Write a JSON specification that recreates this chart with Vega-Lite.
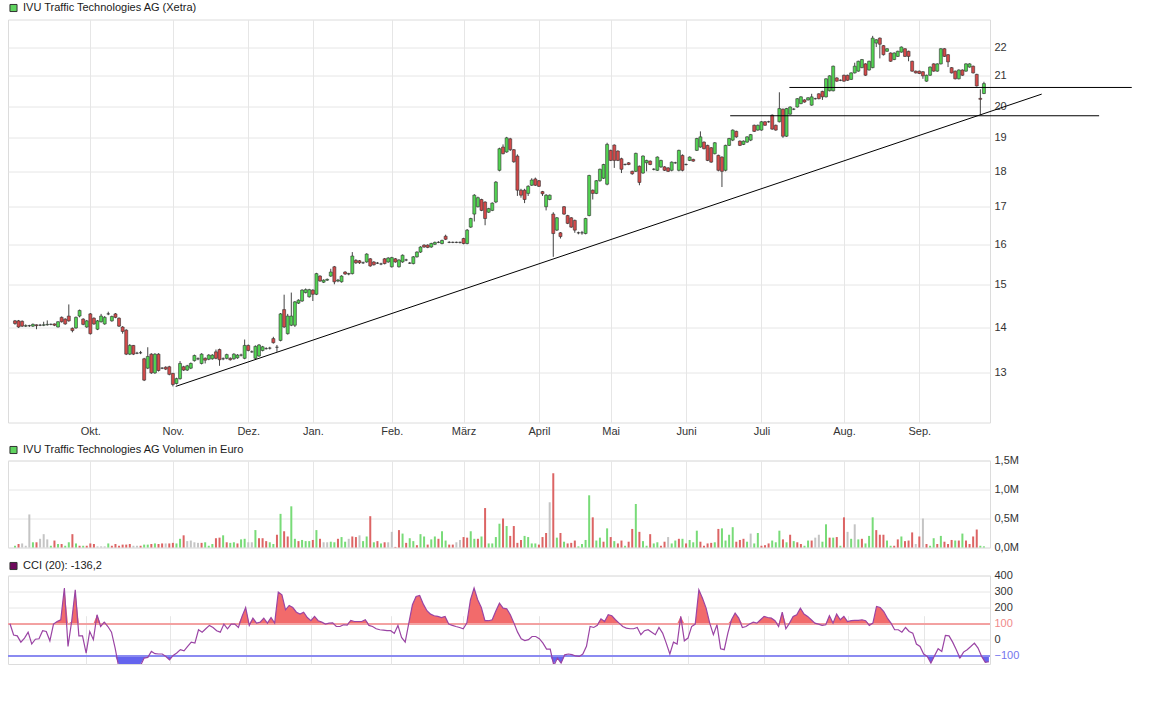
{
  "$schema": "https://vega.github.io/schema/vega-lite/v6.json",
  "background": "white",
  "padding": {"left": 7, "top": 1.5, "right": 5, "bottom": 5},
  "spacing": 6,
  "config": {
    "view": {"stroke": "#dcdcdc"},
    "font": "Liberation Sans",
    "axis": {"labelFont": "Liberation Sans", "labelFontSize": 11, "labelColor": "#333333", "gridColor": "#e6e6e6", "domain": false, "ticks": false, "title": null},
    "legend": {"title": null, "symbolType": "square", "symbolSize": 50, "symbolStrokeColor": "#333333", "symbolStrokeWidth": 1, "symbolOpacity": 1, "labelFont": "Liberation Sans", "labelFontSize": 11, "labelColor": "#1a1a1a", "labelLimit": 0, "padding": 0, "labelOffset": 4}
  },
  "datasets": {
    "d": [
{"i":0,"o":14.14,"h":14.16,"l":14.05,"c":14.08,"v":30000,"vd":"u","k":100},
{"i":1,"o":14.14,"h":14.16,"l":13.98,"c":14.0,"v":60000,"vd":"d","k":30},
{"i":2,"o":14.13,"h":14.15,"l":14.0,"c":14.02,"v":70000,"vd":"n","k":25},
{"i":3,"o":14.02,"h":14.06,"l":14.0,"c":14.03,"v":30000,"vd":"n","k":-14},
{"i":4,"o":14.03,"h":14.05,"l":14.0,"c":14.03,"v":570000,"vd":"n","k":11},
{"i":5,"o":14.02,"h":14.08,"l":14.0,"c":14.06,"v":90000,"vd":"u","k":48},
{"i":6,"o":14.05,"h":14.06,"l":13.95,"c":14.03,"v":90000,"vd":"d","k":-26},
{"i":7,"o":14.04,"h":14.07,"l":14.02,"c":14.04,"v":150000,"vd":"n","k":4},
{"i":8,"o":14.04,"h":14.12,"l":14.02,"c":14.05,"v":230000,"vd":"n","k":7},
{"i":9,"o":14.05,"h":14.15,"l":14.03,"c":14.06,"v":140000,"vd":"n","k":57},
{"i":10,"o":14.06,"h":14.08,"l":14.04,"c":14.06,"v":30000,"vd":"u","k":52},
{"i":11,"o":14.07,"h":14.08,"l":14.02,"c":14.04,"v":120000,"vd":"d","k":-6},
{"i":12,"o":14.0,"h":14.13,"l":13.99,"c":14.12,"v":60000,"vd":"u","k":98},
{"i":13,"o":14.22,"h":14.24,"l":14.1,"c":14.12,"v":60000,"vd":"d","k":114},
{"i":14,"o":14.18,"h":14.2,"l":14.05,"c":14.07,"v":30000,"vd":"u","k":125},
{"i":15,"o":14.25,"h":14.52,"l":14.12,"c":14.14,"v":90000,"vd":"u","k":322},
{"i":16,"o":13.97,"h":13.99,"l":13.88,"c":13.92,"v":230000,"vd":"d","k":-41},
{"i":17,"o":13.98,"h":14.24,"l":13.96,"c":14.22,"v":70000,"vd":"u","k":114},
{"i":18,"o":14.25,"h":14.4,"l":14.22,"c":14.38,"v":30000,"vd":"d","k":311},
{"i":19,"o":14.18,"h":14.2,"l":14.04,"c":14.06,"v":30000,"vd":"u","k":25},
{"i":20,"o":14.0,"h":14.16,"l":13.98,"c":14.14,"v":30000,"vd":"d","k":25},
{"i":21,"o":14.3,"h":14.32,"l":13.83,"c":13.85,"v":70000,"vd":"d","k":-82},
{"i":22,"o":14.2,"h":14.22,"l":14.05,"c":14.07,"v":60000,"vd":"d","k":52},
{"i":23,"o":13.95,"h":14.16,"l":13.93,"c":14.14,"v":20000,"vd":"n","k":1},
{"i":24,"o":14.12,"h":14.3,"l":14.1,"c":14.25,"v":20000,"vd":"n","k":156},
{"i":25,"o":14.07,"h":14.25,"l":14.05,"c":14.22,"v":20000,"vd":"n","k":83},
{"i":26,"o":14.3,"h":14.35,"l":14.27,"c":14.3,"v":70000,"vd":"u","k":110},
{"i":27,"o":14.14,"h":14.26,"l":14.12,"c":14.24,"v":30000,"vd":"d","k":83},
{"i":28,"o":14.3,"h":14.32,"l":14.2,"c":14.22,"v":60000,"vd":"d","k":48},
{"i":29,"o":14.2,"h":14.22,"l":14.0,"c":14.02,"v":30000,"vd":"d","k":-51},
{"i":30,"o":14.0,"h":14.02,"l":13.85,"c":13.9,"v":50000,"vd":"d","k":-170},
{"i":31,"o":13.93,"h":13.95,"l":13.38,"c":13.4,"v":50000,"vd":"d","k":-200},
{"i":32,"o":13.4,"h":13.62,"l":13.38,"c":13.59,"v":60000,"vd":"d","k":-190},
{"i":33,"o":13.59,"h":13.6,"l":13.38,"c":13.4,"v":30000,"vd":"n","k":-180},
{"i":34,"o":13.42,"h":13.45,"l":13.4,"c":13.42,"v":30000,"vd":"n","k":-175},
{"i":35,"o":13.43,"h":13.47,"l":13.4,"c":13.43,"v":30000,"vd":"d","k":-165},
{"i":36,"o":13.3,"h":13.32,"l":12.83,"c":12.85,"v":50000,"vd":"u","k":-160},
{"i":37,"o":13.1,"h":13.55,"l":13.08,"c":13.35,"v":50000,"vd":"u","k":-113},
{"i":38,"o":13.4,"h":13.42,"l":12.98,"c":13.0,"v":60000,"vd":"d","k":-109},
{"i":39,"o":13.0,"h":13.42,"l":12.98,"c":13.4,"v":70000,"vd":"u","k":-72},
{"i":40,"o":13.4,"h":13.42,"l":13.03,"c":13.05,"v":60000,"vd":"d","k":-86},
{"i":41,"o":13.1,"h":13.12,"l":13.08,"c":13.1,"v":70000,"vd":"d","k":-88},
{"i":42,"o":13.12,"h":13.14,"l":13.06,"c":13.08,"v":70000,"vd":"n","k":-88},
{"i":43,"o":13.13,"h":13.15,"l":12.95,"c":12.97,"v":70000,"vd":"d","k":-103},
{"i":44,"o":12.99,"h":13.0,"l":12.72,"c":12.76,"v":80000,"vd":"d","k":-124},
{"i":45,"o":12.78,"h":12.9,"l":12.76,"c":12.88,"v":70000,"vd":"u","k":-97},
{"i":46,"o":12.88,"h":13.25,"l":12.86,"c":13.2,"v":150000,"vd":"u","k":-82},
{"i":47,"o":13.13,"h":13.15,"l":13.04,"c":13.06,"v":210000,"vd":"d","k":-61},
{"i":48,"o":13.06,"h":13.17,"l":13.04,"c":13.15,"v":110000,"vd":"n","k":-68},
{"i":49,"o":13.1,"h":13.22,"l":13.08,"c":13.2,"v":120000,"vd":"n","k":-41},
{"i":50,"o":13.26,"h":13.39,"l":13.24,"c":13.37,"v":90000,"vd":"n","k":-14},
{"i":51,"o":13.3,"h":13.33,"l":13.27,"c":13.3,"v":80000,"vd":"n","k":-20},
{"i":52,"o":13.2,"h":13.42,"l":13.18,"c":13.4,"v":80000,"vd":"d","k":63},
{"i":53,"o":13.31,"h":13.33,"l":13.2,"c":13.27,"v":90000,"vd":"u","k":48},
{"i":54,"o":13.29,"h":13.4,"l":13.27,"c":13.38,"v":30000,"vd":"u","k":69},
{"i":55,"o":13.3,"h":13.4,"l":13.28,"c":13.38,"v":60000,"vd":"u","k":90},
{"i":56,"o":13.45,"h":13.5,"l":13.29,"c":13.31,"v":160000,"vd":"d","k":77},
{"i":57,"o":13.5,"h":13.52,"l":13.15,"c":13.28,"v":170000,"vd":"d","k":57},
{"i":58,"o":13.3,"h":13.33,"l":13.27,"c":13.3,"v":210000,"vd":"u","k":48},
{"i":59,"o":13.31,"h":13.41,"l":13.29,"c":13.39,"v":90000,"vd":"d","k":98},
{"i":60,"o":13.31,"h":13.33,"l":13.26,"c":13.28,"v":80000,"vd":"u","k":69},
{"i":61,"o":13.3,"h":13.42,"l":13.28,"c":13.4,"v":90000,"vd":"u","k":98},
{"i":62,"o":13.32,"h":13.4,"l":13.3,"c":13.38,"v":70000,"vd":"d","k":98},
{"i":63,"o":13.38,"h":13.41,"l":13.35,"c":13.38,"v":140000,"vd":"u","k":77},
{"i":64,"o":13.31,"h":13.72,"l":13.29,"c":13.59,"v":150000,"vd":"u","k":146},
{"i":65,"o":13.59,"h":13.61,"l":13.46,"c":13.48,"v":90000,"vd":"n","k":201},
{"i":66,"o":13.45,"h":13.48,"l":13.43,"c":13.45,"v":90000,"vd":"n","k":90},
{"i":67,"o":13.31,"h":13.59,"l":13.29,"c":13.57,"v":300000,"vd":"u","k":135},
{"i":68,"o":13.36,"h":13.62,"l":13.34,"c":13.6,"v":160000,"vd":"d","k":104},
{"i":69,"o":13.48,"h":13.58,"l":13.46,"c":13.56,"v":160000,"vd":"d","k":110},
{"i":70,"o":13.52,"h":13.55,"l":13.5,"c":13.52,"v":110000,"vd":"d","k":135},
{"i":71,"o":13.53,"h":13.56,"l":13.5,"c":13.53,"v":90000,"vd":"u","k":104},
{"i":72,"o":13.74,"h":13.78,"l":13.63,"c":13.65,"v":60000,"vd":"u","k":139},
{"i":73,"o":13.55,"h":13.6,"l":13.45,"c":13.55,"v":220000,"vd":"d","k":104},
{"i":74,"o":13.7,"h":14.32,"l":13.68,"c":14.3,"v":580000,"vd":"u","k":297},
{"i":75,"o":14.4,"h":14.75,"l":13.98,"c":14.0,"v":280000,"vd":"d","k":280},
{"i":76,"o":13.85,"h":14.3,"l":13.83,"c":14.25,"v":190000,"vd":"d","k":187},
{"i":77,"o":14.04,"h":14.8,"l":14.02,"c":14.25,"v":710000,"vd":"u","k":214},
{"i":78,"o":14.04,"h":14.6,"l":14.0,"c":14.58,"v":150000,"vd":"u","k":201},
{"i":79,"o":14.55,"h":14.64,"l":14.53,"c":14.62,"v":110000,"vd":"d","k":172},
{"i":80,"o":14.6,"h":14.88,"l":14.58,"c":14.86,"v":130000,"vd":"u","k":160},
{"i":81,"o":14.8,"h":14.9,"l":14.78,"c":14.87,"v":110000,"vd":"u","k":172},
{"i":82,"o":14.7,"h":14.89,"l":14.68,"c":14.87,"v":110000,"vd":"u","k":139},
{"i":83,"o":14.86,"h":14.88,"l":14.6,"c":14.76,"v":130000,"vd":"d","k":119},
{"i":84,"o":14.76,"h":15.28,"l":14.74,"c":15.26,"v":300000,"vd":"u","k":146},
{"i":85,"o":15.2,"h":15.22,"l":15.06,"c":15.08,"v":150000,"vd":"d","k":119},
{"i":86,"o":15.05,"h":15.12,"l":15.03,"c":15.1,"v":90000,"vd":"n","k":110},
{"i":87,"o":15.1,"h":15.14,"l":15.08,"c":15.12,"v":90000,"vd":"n","k":98},
{"i":88,"o":15.2,"h":15.38,"l":15.18,"c":15.3,"v":100000,"vd":"u","k":104},
{"i":89,"o":15.43,"h":15.45,"l":15.0,"c":15.06,"v":90000,"vd":"u","k":106},
{"i":90,"o":15.08,"h":15.13,"l":15.05,"c":15.1,"v":150000,"vd":"d","k":83},
{"i":91,"o":15.06,"h":15.22,"l":15.04,"c":15.2,"v":180000,"vd":"u","k":83},
{"i":92,"o":15.3,"h":15.32,"l":15.23,"c":15.25,"v":100000,"vd":"u","k":94},
{"i":93,"o":15.25,"h":15.28,"l":15.22,"c":15.26,"v":150000,"vd":"n","k":92},
{"i":94,"o":15.26,"h":15.8,"l":15.24,"c":15.7,"v":190000,"vd":"d","k":121},
{"i":95,"o":15.59,"h":15.62,"l":15.5,"c":15.53,"v":180000,"vd":"d","k":114},
{"i":96,"o":15.58,"h":15.6,"l":15.5,"c":15.53,"v":210000,"vd":"n","k":114},
{"i":97,"o":15.53,"h":15.56,"l":15.5,"c":15.53,"v":110000,"vd":"u","k":114},
{"i":98,"o":15.55,"h":15.77,"l":15.53,"c":15.75,"v":190000,"vd":"u","k":125},
{"i":99,"o":15.63,"h":15.65,"l":15.43,"c":15.45,"v":540000,"vd":"d","k":90},
{"i":100,"o":15.55,"h":15.57,"l":15.46,"c":15.48,"v":90000,"vd":"u","k":83},
{"i":101,"o":15.52,"h":15.55,"l":15.5,"c":15.52,"v":110000,"vd":"d","k":69},
{"i":102,"o":15.5,"h":15.53,"l":15.47,"c":15.5,"v":70000,"vd":"u","k":63},
{"i":103,"o":15.63,"h":15.65,"l":15.49,"c":15.51,"v":90000,"vd":"d","k":60},
{"i":104,"o":15.55,"h":15.67,"l":15.53,"c":15.65,"v":90000,"vd":"n","k":57},
{"i":105,"o":15.43,"h":15.68,"l":15.41,"c":15.66,"v":270000,"vd":"n","k":57},
{"i":106,"o":15.63,"h":15.65,"l":15.53,"c":15.55,"v":10000,"vd":"d","k":40},
{"i":107,"o":15.43,"h":15.62,"l":15.41,"c":15.6,"v":300000,"vd":"d","k":90},
{"i":108,"o":15.55,"h":15.74,"l":15.53,"c":15.72,"v":240000,"vd":"u","k":15},
{"i":109,"o":15.6,"h":15.63,"l":15.57,"c":15.6,"v":80000,"vd":"d","k":-14},
{"i":110,"o":15.52,"h":15.55,"l":15.5,"c":15.52,"v":160000,"vd":"u","k":104},
{"i":111,"o":15.51,"h":15.7,"l":15.49,"c":15.68,"v":110000,"vd":"u","k":218},
{"i":112,"o":15.68,"h":15.82,"l":15.66,"c":15.8,"v":40000,"vd":"d","k":270},
{"i":113,"o":15.8,"h":15.95,"l":15.78,"c":15.93,"v":230000,"vd":"u","k":276},
{"i":114,"o":15.98,"h":16.0,"l":15.91,"c":15.93,"v":190000,"vd":"u","k":222},
{"i":115,"o":15.98,"h":16.0,"l":15.9,"c":15.92,"v":50000,"vd":"d","k":181},
{"i":116,"o":15.93,"h":16.04,"l":15.91,"c":16.02,"v":140000,"vd":"u","k":160},
{"i":117,"o":16.0,"h":16.07,"l":15.98,"c":16.05,"v":190000,"vd":"u","k":150},
{"i":118,"o":16.05,"h":16.08,"l":16.03,"c":16.05,"v":150000,"vd":"d","k":146},
{"i":119,"o":16.02,"h":16.12,"l":16.0,"c":16.1,"v":280000,"vd":"u","k":139},
{"i":120,"o":16.21,"h":16.25,"l":16.11,"c":16.13,"v":120000,"vd":"u","k":146},
{"i":121,"o":16.05,"h":16.08,"l":16.03,"c":16.05,"v":50000,"vd":"d","k":98},
{"i":122,"o":16.05,"h":16.07,"l":16.03,"c":16.05,"v":50000,"vd":"d","k":90},
{"i":123,"o":16.05,"h":16.07,"l":16.03,"c":16.05,"v":90000,"vd":"n","k":83},
{"i":124,"o":16.05,"h":16.07,"l":16.02,"c":16.05,"v":130000,"vd":"n","k":77},
{"i":125,"o":16.15,"h":16.17,"l":16.0,"c":16.02,"v":180000,"vd":"d","k":69},
{"i":126,"o":16.02,"h":16.4,"l":16.0,"c":16.37,"v":170000,"vd":"d","k":104},
{"i":127,"o":16.45,"h":16.7,"l":16.43,"c":16.68,"v":280000,"vd":"u","k":249},
{"i":128,"o":16.8,"h":17.35,"l":16.6,"c":17.32,"v":150000,"vd":"u","k":322},
{"i":129,"o":17.0,"h":17.28,"l":16.98,"c":17.25,"v":150000,"vd":"d","k":249},
{"i":130,"o":17.2,"h":17.22,"l":16.88,"c":16.9,"v":190000,"vd":"u","k":201},
{"i":131,"o":17.13,"h":17.15,"l":16.5,"c":16.68,"v":680000,"vd":"d","k":119},
{"i":132,"o":16.85,"h":16.97,"l":16.83,"c":16.95,"v":70000,"vd":"u","k":119},
{"i":133,"o":16.9,"h":17.12,"l":16.88,"c":17.1,"v":70000,"vd":"u","k":125},
{"i":134,"o":17.13,"h":17.72,"l":17.1,"c":17.69,"v":180000,"vd":"u","k":180},
{"i":135,"o":18.03,"h":18.7,"l":18.0,"c":18.67,"v":410000,"vd":"u","k":228},
{"i":136,"o":18.72,"h":18.8,"l":18.5,"c":18.52,"v":500000,"vd":"d","k":197},
{"i":137,"o":18.57,"h":19.03,"l":18.55,"c":19.0,"v":370000,"vd":"u","k":193},
{"i":138,"o":18.97,"h":19.0,"l":18.6,"c":18.64,"v":200000,"vd":"d","k":156},
{"i":139,"o":18.64,"h":18.66,"l":18.25,"c":18.28,"v":370000,"vd":"d","k":104},
{"i":140,"o":18.45,"h":18.5,"l":17.3,"c":17.46,"v":80000,"vd":"d","k":48},
{"i":141,"o":17.46,"h":17.5,"l":17.25,"c":17.32,"v":130000,"vd":"d","k":7},
{"i":142,"o":17.46,"h":17.5,"l":17.1,"c":17.2,"v":200000,"vd":"u","k":-4},
{"i":143,"o":17.37,"h":17.6,"l":17.3,"c":17.57,"v":180000,"vd":"u","k":1},
{"i":144,"o":17.6,"h":17.8,"l":17.58,"c":17.75,"v":70000,"vd":"u","k":21},
{"i":145,"o":17.78,"h":17.82,"l":17.58,"c":17.6,"v":70000,"vd":"u","k":21},
{"i":146,"o":17.73,"h":17.75,"l":17.55,"c":17.57,"v":50000,"vd":"d","k":7},
{"i":147,"o":17.42,"h":17.44,"l":17.3,"c":17.36,"v":180000,"vd":"d","k":-20},
{"i":148,"o":17.0,"h":17.35,"l":16.9,"c":17.32,"v":250000,"vd":"d","k":-57},
{"i":149,"o":17.2,"h":17.34,"l":17.18,"c":17.32,"v":780000,"vd":"n","k":-57},
{"i":150,"o":16.8,"h":16.85,"l":15.68,"c":16.28,"v":1280000,"vd":"d","k":-160},
{"i":151,"o":16.37,"h":16.72,"l":16.35,"c":16.7,"v":170000,"vd":"u","k":-113},
{"i":152,"o":16.3,"h":16.32,"l":16.15,"c":16.2,"v":250000,"vd":"d","k":-144},
{"i":153,"o":17.0,"h":17.02,"l":16.78,"c":16.8,"v":100000,"vd":"u","k":-93},
{"i":154,"o":16.76,"h":16.78,"l":16.53,"c":16.55,"v":70000,"vd":"d","k":-88},
{"i":155,"o":16.7,"h":16.72,"l":16.43,"c":16.45,"v":80000,"vd":"d","k":-92},
{"i":156,"o":16.63,"h":16.65,"l":16.3,"c":16.37,"v":120000,"vd":"d","k":-100},
{"i":157,"o":16.3,"h":16.33,"l":16.26,"c":16.3,"v":20000,"vd":"u","k":-103},
{"i":158,"o":16.3,"h":16.35,"l":16.25,"c":16.3,"v":60000,"vd":"u","k":-88},
{"i":159,"o":16.28,"h":16.7,"l":16.26,"c":16.68,"v":130000,"vd":"u","k":-40},
{"i":160,"o":16.76,"h":17.9,"l":16.74,"c":17.88,"v":900000,"vd":"u","k":83},
{"i":161,"o":17.46,"h":17.48,"l":17.2,"c":17.37,"v":520000,"vd":"d","k":77},
{"i":162,"o":17.37,"h":17.75,"l":17.35,"c":17.73,"v":120000,"vd":"u","k":90},
{"i":163,"o":17.73,"h":18.08,"l":17.7,"c":18.06,"v":170000,"vd":"u","k":131},
{"i":164,"o":17.8,"h":18.22,"l":17.78,"c":18.2,"v":100000,"vd":"d","k":114},
{"i":165,"o":17.63,"h":18.85,"l":17.6,"c":18.8,"v":330000,"vd":"u","k":156},
{"i":166,"o":18.62,"h":18.64,"l":18.3,"c":18.32,"v":180000,"vd":"d","k":150},
{"i":167,"o":18.78,"h":18.8,"l":18.1,"c":18.32,"v":110000,"vd":"u","k":125},
{"i":168,"o":18.6,"h":18.62,"l":18.3,"c":18.32,"v":70000,"vd":"d","k":104},
{"i":169,"o":18.37,"h":18.4,"l":17.95,"c":18.06,"v":120000,"vd":"d","k":83},
{"i":170,"o":18.2,"h":18.23,"l":18.17,"c":18.2,"v":30000,"vd":"u","k":73},
{"i":171,"o":18.25,"h":18.27,"l":18.18,"c":18.2,"v":100000,"vd":"d","k":69},
{"i":172,"o":18.0,"h":18.02,"l":17.9,"c":17.93,"v":320000,"vd":"d","k":69},
{"i":173,"o":18.0,"h":18.55,"l":17.98,"c":18.53,"v":750000,"vd":"u","k":77},
{"i":174,"o":18.15,"h":18.17,"l":17.6,"c":17.68,"v":270000,"vd":"d","k":32},
{"i":175,"o":17.95,"h":18.47,"l":17.93,"c":18.45,"v":110000,"vd":"u","k":57},
{"i":176,"o":18.25,"h":18.34,"l":18.0,"c":18.32,"v":30000,"vd":"u","k":63},
{"i":177,"o":18.3,"h":18.32,"l":18.18,"c":18.2,"v":230000,"vd":"d","k":48},
{"i":178,"o":18.06,"h":18.09,"l":18.03,"c":18.06,"v":70000,"vd":"u","k":32},
{"i":179,"o":18.03,"h":18.44,"l":18.01,"c":18.42,"v":90000,"vd":"u","k":77},
{"i":180,"o":18.13,"h":18.34,"l":18.1,"c":18.32,"v":30000,"vd":"d","k":42},
{"i":181,"o":18.13,"h":18.15,"l":18.01,"c":18.03,"v":100000,"vd":"d","k":-20},
{"i":182,"o":18.1,"h":18.12,"l":17.98,"c":18.0,"v":180000,"vd":"n","k":-88},
{"i":183,"o":18.03,"h":18.29,"l":18.0,"c":18.27,"v":70000,"vd":"u","k":-14},
{"i":184,"o":18.25,"h":18.28,"l":18.22,"c":18.25,"v":120000,"vd":"u","k":-26},
{"i":185,"o":18.03,"h":18.64,"l":18.0,"c":18.62,"v":150000,"vd":"d","k":146},
{"i":186,"o":18.47,"h":18.5,"l":18.0,"c":18.03,"v":150000,"vd":"u","k":-6},
{"i":187,"o":18.2,"h":18.23,"l":18.17,"c":18.2,"v":70000,"vd":"d","k":11},
{"i":188,"o":18.32,"h":18.44,"l":18.3,"c":18.42,"v":130000,"vd":"u","k":83},
{"i":189,"o":18.35,"h":18.37,"l":18.28,"c":18.3,"v":90000,"vd":"u","k":98},
{"i":190,"o":18.62,"h":19.0,"l":18.6,"c":18.98,"v":290000,"vd":"u","k":311},
{"i":191,"o":18.72,"h":19.2,"l":18.7,"c":19.03,"v":100000,"vd":"d","k":259},
{"i":192,"o":18.87,"h":18.89,"l":18.65,"c":18.67,"v":30000,"vd":"d","k":197},
{"i":193,"o":18.77,"h":18.79,"l":18.3,"c":18.32,"v":70000,"vd":"d","k":104},
{"i":194,"o":18.7,"h":18.72,"l":18.25,"c":18.27,"v":80000,"vd":"d","k":32},
{"i":195,"o":18.52,"h":18.87,"l":18.5,"c":18.85,"v":90000,"vd":"u","k":94},
{"i":196,"o":18.47,"h":18.49,"l":18.0,"c":18.03,"v":320000,"vd":"d","k":-55},
{"i":197,"o":18.42,"h":18.44,"l":17.55,"c":18.0,"v":330000,"vd":"u","k":-61},
{"i":198,"o":18.03,"h":18.79,"l":18.0,"c":18.77,"v":120000,"vd":"u","k":42},
{"i":199,"o":18.77,"h":19.0,"l":18.75,"c":18.98,"v":220000,"vd":"u","k":125},
{"i":200,"o":18.93,"h":19.26,"l":18.9,"c":19.24,"v":350000,"vd":"u","k":166},
{"i":201,"o":19.2,"h":19.22,"l":19.0,"c":19.03,"v":100000,"vd":"d","k":135},
{"i":202,"o":18.9,"h":18.92,"l":18.75,"c":18.77,"v":130000,"vd":"d","k":77},
{"i":203,"o":18.8,"h":18.92,"l":18.78,"c":18.9,"v":150000,"vd":"d","k":83},
{"i":204,"o":18.87,"h":19.05,"l":18.85,"c":19.03,"v":100000,"vd":"u","k":98},
{"i":205,"o":18.93,"h":19.12,"l":18.9,"c":19.1,"v":240000,"vd":"n","k":110},
{"i":206,"o":19.39,"h":19.41,"l":19.18,"c":19.2,"v":70000,"vd":"u","k":104},
{"i":207,"o":19.24,"h":19.41,"l":19.22,"c":19.39,"v":250000,"vd":"u","k":125},
{"i":208,"o":19.24,"h":19.52,"l":19.22,"c":19.5,"v":30000,"vd":"d","k":146},
{"i":209,"o":19.5,"h":19.52,"l":19.37,"c":19.39,"v":40000,"vd":"d","k":139},
{"i":210,"o":19.5,"h":19.53,"l":19.47,"c":19.5,"v":70000,"vd":"d","k":135},
{"i":211,"o":19.71,"h":19.73,"l":19.25,"c":19.27,"v":120000,"vd":"u","k":119},
{"i":212,"o":19.39,"h":19.41,"l":19.22,"c":19.24,"v":90000,"vd":"u","k":83},
{"i":213,"o":19.5,"h":20.45,"l":19.48,"c":19.92,"v":290000,"vd":"u","k":172},
{"i":214,"o":19.9,"h":19.92,"l":19.0,"c":19.05,"v":140000,"vd":"d","k":69},
{"i":215,"o":19.05,"h":19.94,"l":19.03,"c":19.92,"v":90000,"vd":"u","k":104},
{"i":216,"o":19.74,"h":19.99,"l":19.72,"c":19.97,"v":220000,"vd":"d","k":146},
{"i":217,"o":19.9,"h":19.93,"l":19.87,"c":19.9,"v":110000,"vd":"u","k":156},
{"i":218,"o":19.97,"h":20.26,"l":19.95,"c":20.24,"v":90000,"vd":"d","k":197},
{"i":219,"o":20.08,"h":20.32,"l":20.06,"c":20.3,"v":60000,"vd":"d","k":160},
{"i":220,"o":20.2,"h":20.22,"l":20.11,"c":20.13,"v":30000,"vd":"u","k":146},
{"i":221,"o":20.2,"h":20.29,"l":20.18,"c":20.27,"v":120000,"vd":"u","k":125},
{"i":222,"o":20.03,"h":20.4,"l":20.01,"c":20.3,"v":120000,"vd":"d","k":104},
{"i":223,"o":20.24,"h":20.27,"l":20.21,"c":20.24,"v":170000,"vd":"n","k":98},
{"i":224,"o":20.4,"h":20.42,"l":20.22,"c":20.24,"v":220000,"vd":"n","k":90},
{"i":225,"o":20.48,"h":20.5,"l":20.2,"c":20.3,"v":100000,"vd":"u","k":94},
{"i":226,"o":20.3,"h":20.92,"l":20.28,"c":20.9,"v":400000,"vd":"u","k":150},
{"i":227,"o":20.5,"h":21.02,"l":20.48,"c":21.0,"v":170000,"vd":"d","k":104},
{"i":228,"o":20.5,"h":21.35,"l":20.48,"c":21.33,"v":170000,"vd":"u","k":160},
{"i":229,"o":20.93,"h":20.95,"l":20.8,"c":20.82,"v":180000,"vd":"d","k":125},
{"i":230,"o":20.85,"h":20.88,"l":20.82,"c":20.85,"v":30000,"vd":"u","k":146},
{"i":231,"o":21.02,"h":21.04,"l":20.8,"c":20.82,"v":520000,"vd":"d","k":114},
{"i":232,"o":21.02,"h":21.04,"l":20.83,"c":20.85,"v":270000,"vd":"n","k":119},
{"i":233,"o":20.88,"h":21.12,"l":20.86,"c":21.1,"v":150000,"vd":"u","k":121},
{"i":234,"o":21.1,"h":21.45,"l":21.08,"c":21.33,"v":400000,"vd":"n","k":121},
{"i":235,"o":21.16,"h":21.52,"l":21.14,"c":21.5,"v":140000,"vd":"u","k":125},
{"i":236,"o":21.28,"h":21.58,"l":21.26,"c":21.56,"v":150000,"vd":"d","k":119},
{"i":237,"o":21.41,"h":21.43,"l":21.0,"c":21.02,"v":70000,"vd":"u","k":90},
{"i":238,"o":21.2,"h":21.52,"l":21.18,"c":21.5,"v":200000,"vd":"u","k":104},
{"i":239,"o":21.28,"h":22.4,"l":21.26,"c":22.32,"v":520000,"vd":"u","k":208},
{"i":240,"o":22.14,"h":22.28,"l":22.0,"c":22.26,"v":300000,"vd":"d","k":201},
{"i":241,"o":22.32,"h":22.34,"l":21.6,"c":22.1,"v":220000,"vd":"d","k":176},
{"i":242,"o":22.05,"h":22.07,"l":21.7,"c":21.73,"v":220000,"vd":"d","k":135},
{"i":243,"o":21.85,"h":21.96,"l":21.83,"c":21.94,"v":120000,"vd":"u","k":104},
{"i":244,"o":21.79,"h":21.81,"l":21.48,"c":21.5,"v":30000,"vd":"u","k":63},
{"i":245,"o":21.56,"h":21.81,"l":21.54,"c":21.79,"v":30000,"vd":"d","k":63},
{"i":246,"o":21.67,"h":21.87,"l":21.65,"c":21.85,"v":140000,"vd":"d","k":48},
{"i":247,"o":21.82,"h":22.02,"l":21.8,"c":22.0,"v":190000,"vd":"u","k":77},
{"i":248,"o":21.94,"h":21.96,"l":21.65,"c":21.67,"v":110000,"vd":"d","k":52},
{"i":249,"o":21.85,"h":21.87,"l":21.5,"c":21.67,"v":120000,"vd":"d","k":42},
{"i":250,"o":21.5,"h":21.52,"l":21.14,"c":21.16,"v":260000,"vd":"d","k":-26},
{"i":251,"o":21.16,"h":21.18,"l":21.08,"c":21.1,"v":60000,"vd":"n","k":-41},
{"i":252,"o":21.16,"h":21.18,"l":21.06,"c":21.08,"v":190000,"vd":"d","k":-88},
{"i":253,"o":21.14,"h":21.16,"l":20.9,"c":21.0,"v":500000,"vd":"n","k":-103},
{"i":254,"o":20.82,"h":21.04,"l":20.8,"c":21.02,"v":60000,"vd":"d","k":-144},
{"i":255,"o":21.02,"h":21.32,"l":21.0,"c":21.3,"v":30000,"vd":"u","k":-99},
{"i":256,"o":21.41,"h":21.43,"l":21.14,"c":21.16,"v":160000,"vd":"u","k":-55},
{"i":257,"o":21.16,"h":21.43,"l":21.14,"c":21.41,"v":60000,"vd":"d","k":-72},
{"i":258,"o":21.41,"h":21.96,"l":21.39,"c":21.94,"v":200000,"vd":"u","k":28},
{"i":259,"o":21.94,"h":21.96,"l":21.65,"c":21.67,"v":100000,"vd":"d","k":25},
{"i":260,"o":21.73,"h":21.75,"l":21.3,"c":21.48,"v":60000,"vd":"d","k":-14},
{"i":261,"o":21.28,"h":21.3,"l":21.08,"c":21.1,"v":130000,"vd":"d","k":-61},
{"i":262,"o":21.16,"h":21.18,"l":20.88,"c":20.9,"v":120000,"vd":"u","k":-113},
{"i":263,"o":20.9,"h":21.22,"l":20.88,"c":21.2,"v":120000,"vd":"d","k":-76},
{"i":264,"o":21.2,"h":21.22,"l":21.0,"c":21.02,"v":240000,"vd":"u","k":-61},
{"i":265,"o":21.16,"h":21.43,"l":21.14,"c":21.41,"v":120000,"vd":"d","k":-41},
{"i":266,"o":21.3,"h":21.43,"l":21.28,"c":21.41,"v":60000,"vd":"d","k":-20},
{"i":267,"o":21.33,"h":21.35,"l":21.08,"c":21.1,"v":190000,"vd":"d","k":-51},
{"i":268,"o":21.05,"h":21.07,"l":20.64,"c":20.66,"v":310000,"vd":"d","k":-103},
{"i":269,"o":20.25,"h":20.55,"l":19.72,"c":20.22,"v":30000,"vd":"u","k":-140},
{"i":270,"o":20.41,"h":20.8,"l":20.39,"c":20.74,"v":20000,"vd":"u","k":-136.2}
    ],
    "lines": [
      {"x1": 44.8, "y1": 12.72, "x2": 286.1, "y2": 20.39},
      {"x1": 215.8, "y1": 20.61, "x2": 311.2, "y2": 20.61},
      {"x1": 199.3, "y1": 19.69, "x2": 302.1, "y2": 19.69}
    ]
  },
  "vconcat": [
    {
      "width": 982,
      "height": 403,
      "data": {"name": "d"},
      "layer": [
        {
          "data": {"values": [{}]},
          "mark": {"type": "square", "opacity": 0, "stroke": "#333333", "strokeWidth": 1},
          "encoding": {
            "fill": {"datum": "IVU Traffic Technologies AG (Xetra)", "type": "nominal", "scale": {"range": ["#5fd35f"]}, "legend": {"orient": "top", "title": null, "offset": 5, "symbolOpacity": 1}}
          }
        },
        {
          "mark": {"type": "rule", "color": "#444444", "strokeWidth": 1},
          "encoding": {
            "x": {"field": "i", "type": "quantitative", "scale": {"domain": [-0.55, 270.3], "nice": false, "zero": false},
              "axis": {"values": [21,44,65,83,105,125,146,166,187,208,231,252], "labelExpr": "['Okt.','Nov.','Dez.','Jan.','Feb.','März','April','Mai','Juni','Juli','Aug.','Sep.'][indexof([21,44,65,83,105,125,146,166,187,208,231,252], datum.value)]", "grid": true, "labelPadding": 3, "labelFlush": false, "labelOverlap": false}},
            "y": {"field": "l", "type": "quantitative", "scale": {"type": "log", "domain": [12, 23], "nice": false},
              "axis": {"orient": "right", "values": [13,14,15,16,17,18,19,20,21,22], "format": "d", "grid": true, "labelPadding": 4}},
            "y2": {"field": "h"}
          }
        },
        {
          "mark": {"type": "bar", "width": 3, "stroke": "#333333", "strokeWidth": 0.6},
          "encoding": {
            "x": {"field": "i", "type": "quantitative"},
            "y": {"field": "o", "type": "quantitative"},
            "y2": {"field": "c"},
            "color": {"condition": {"test": "datum.c >= datum.o", "value": "#52d452"}, "value": "#d44a4a"}
          }
        },
        {
          "data": {"name": "lines"},
          "mark": {"type": "rule", "color": "#000000", "strokeWidth": 1, "clip": false},
          "encoding": {
            "x": {"field": "x1", "type": "quantitative"},
            "x2": {"field": "x2"},
            "y": {"field": "y1", "type": "quantitative"},
            "y2": {"field": "y2"}
          }
        }
      ]
    },
    {
      "width": 982,
      "height": 87,
      "data": {"name": "d"},
      "layer": [
        {
          "data": {"values": [{}]},
          "mark": {"type": "square", "opacity": 0, "stroke": "#333333", "strokeWidth": 1},
          "encoding": {
            "fill": {"datum": "IVU Traffic Technologies AG Volumen in Euro", "type": "nominal", "scale": {"range": ["#5fd35f"]}, "legend": {"orient": "top", "title": null, "offset": 4, "symbolOpacity": 1}}
          }
        },
        {
          "mark": {"type": "bar", "width": 2},
          "encoding": {
            "x": {"field": "i", "type": "quantitative", "scale": {"domain": [-0.55, 270.3], "nice": false, "zero": false},
              "axis": {"values": [21,44,65,83,105,125,146,166,187,208,231,252], "labels": false, "grid": true}},
            "y": {"field": "v", "type": "quantitative", "stack": null, "scale": {"domain": [0, 1500000], "nice": false},
              "axis": {"orient": "right", "values": [0, 500000, 1000000, 1500000], "labelExpr": "replace(format(datum.value / 1000000, '.1f'), '.', ',') + 'M'", "grid": true, "labelPadding": 4}},
            "color": {"field": "vd", "type": "nominal", "scale": {"domain": ["u", "d", "n"], "range": ["#78db78", "#dc6464", "#c4c4c4"]}, "legend": null}
          }
        }
      ]
    },
    {
      "width": 982,
      "height": 88.5,
      "data": {"name": "d"},
      "resolve": {"scale": {"y": "independent"}},
      "layer": [
        {
          "data": {"values": [{}]},
          "mark": {"type": "square", "opacity": 0, "stroke": "#333333", "strokeWidth": 1},
          "encoding": {
            "fill": {"datum": "CCI (20): -136,2", "type": "nominal", "scale": {"range": ["#6e0a5c"]}, "legend": {"orient": "top", "title": null, "offset": 3.2, "symbolOpacity": 1}}
          }
        },
        {
          "mark": {"type": "area", "color": "#f26b6b", "clip": true},
          "encoding": {
            "x": {"field": "i", "type": "quantitative", "scale": {"domain": [-0.55, 270.3], "nice": false, "zero": false},
              "axis": {"values": [21,44,65,83,105,125,146,166,187,208,231,252], "labels": false, "grid": true}},
            "y": {"field": "k", "type": "quantitative", "scale": {"domain": [100, 400], "range": [48.27, 0], "clamp": true, "nice": false, "zero": false}, "axis": null},
            "y2": {"datum": 100}
          }
        },
        {
          "mark": {"type": "area", "color": "#6464ee", "clip": true},
          "encoding": {
            "x": {"field": "i", "type": "quantitative"},
            "y": {"field": "k", "type": "quantitative", "scale": {"domain": [-150, -100], "range": [88.5, 80.45], "clamp": true, "nice": false, "zero": false}, "axis": null},
            "y2": {"datum": -100}
          }
        },
        {
          "mark": {"type": "rule", "color": "#f4a3a3", "strokeWidth": 1},
          "encoding": {
            "y": {"datum": 100, "type": "quantitative", "scale": {"domain": [-150, 400], "nice": false, "zero": false}, "axis": null}
          }
        },
        {
          "mark": {"type": "rule", "color": "#8a8af0", "strokeWidth": 1},
          "encoding": {
            "y": {"datum": -100, "type": "quantitative", "scale": {"domain": [-150, 400], "nice": false, "zero": false}, "axis": null}
          }
        },
        {
          "mark": {"type": "line", "color": "#9a44a4", "strokeWidth": 1.2, "clip": true},
          "encoding": {
            "x": {"field": "i", "type": "quantitative"},
            "y": {"field": "k", "type": "quantitative", "scale": {"domain": [-150, 400], "nice": false, "zero": false},
              "axis": {"orient": "right", "values": [-100, 0, 100, 200, 300, 400], "grid": true, "labelPadding": 4,
                "labelColor": {"condition": [{"test": "datum.value === 100", "value": "#f08a8a"}, {"test": "datum.value === -100", "value": "#7474ee"}], "value": "#333333"}}}
          }
        }
      ]
    }
  ],
  "resolve": {"scale": {"fill": "independent", "color": "independent"}, "legend": {"fill": "independent"}}
}
